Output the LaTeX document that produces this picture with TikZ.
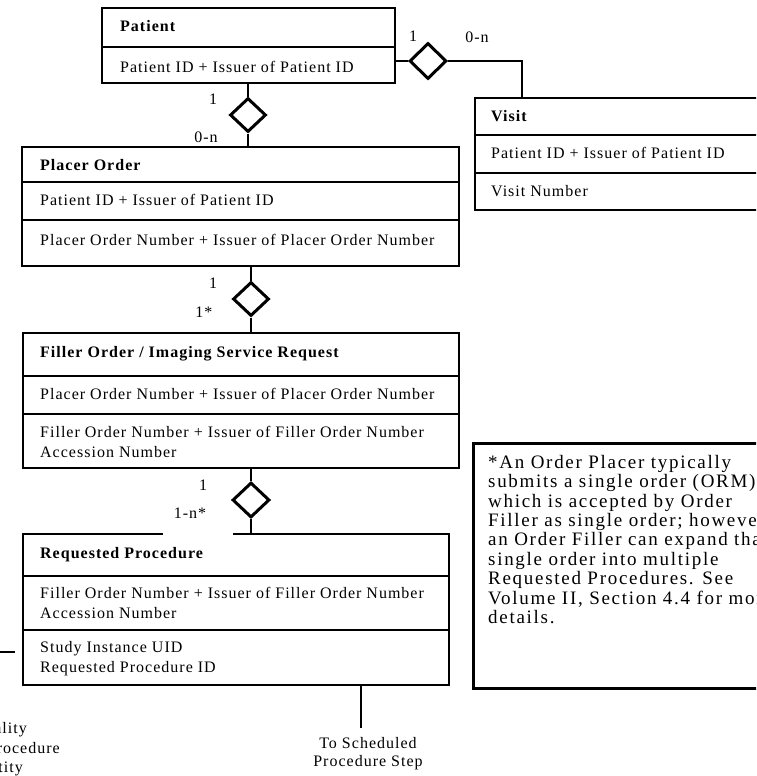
\documentclass[tikz,border=0pt]{standalone}
\usepackage{fontspec}
\setmainfont{Liberation Serif}
\newfontfamily\bxf[LetterSpace=6.3]{Liberation Serif}
\newfontfamily\ntf[LetterSpace=9]{Liberation Serif}
\usetikzlibrary{shapes.geometric}
\tikzset{
  box/.style={draw, line width=2pt, inner sep=0pt, anchor=north west},
  div/.style={line width=2pt},
  conn/.style={line width=2.5pt},
  rel/.style={draw, diamond, line width=3pt, inner sep=0pt, minimum width=36pt, minimum height=34pt, fill=white},
  txt/.style={font=\bxf\fontsize{16}{18}\selectfont, anchor=base west, inner sep=0pt},
  ttl/.style={font=\bxf\bfseries\fontsize{16}{18}\selectfont, anchor=base west, inner sep=0pt},
  card/.style={font=\bxf\fontsize{16}{18}\selectfont, inner sep=0pt},
  note/.style={font=\ntf\fontsize{19}{19.4}\selectfont, anchor=north west, inner sep=0pt, align=left}
}
\begin{document}
\begin{tikzpicture}[x=1pt,y=-1pt]
\useasboundingbox (0,0) rectangle (756,776);
\clip (0,0) rectangle (756,776);
\fill[white] (0,0) rectangle (756,776);

% Patient
\node[box, minimum width=293pt, minimum height=75pt] (patient) at (101,7) {};
\draw[div] (101,47) -- (394,47);
\node[ttl] (patientT) at (120,32) {Patient};
\node[txt] (patientA) at (120,72) {Patient ID + Issuer of Patient ID};

% Placer Order
\node[box, minimum width=437pt, minimum height=119pt] (placer) at (21,146) {};
\draw[div] (21,182) -- (458,182);
\draw[div] (21,220) -- (458,220);
\node[ttl] (placerT) at (40,170) {Placer Order};
\node[txt] (placerA) at (40,205) {Patient ID + Issuer of Patient ID};
\node[txt] (placerB) at (40,245) {Placer Order Number + Issuer of Placer Order Number};

% Visit
\node[box, minimum width=306pt, minimum height=112pt] (visit) at (474,97) {};
\draw[div] (474,135) -- (780,135);
\draw[div] (474,173) -- (780,173);
\node[ttl] (visitT) at (491,121) {Visit};
\node[txt] (visitA) at (491,158) {Patient ID + Issuer of Patient ID};
\node[txt] (visitB) at (491,196) {Visit Number};

% Filler Order
\node[box, minimum width=436pt, minimum height=135pt] (filler) at (22,332) {};
\draw[div] (22,376) -- (458,376);
\draw[div] (22,414) -- (458,414);
\node[ttl] (fillerT) at (40,357) {Filler Order / Imaging Service Request};
\node[txt] (fillerA) at (40,399) {Placer Order Number + Issuer of Placer Order Number};
\node[txt] (fillerB) at (40,437) {Filler Order Number + Issuer of Filler Order Number};
\node[txt] (fillerC) at (40,457) {Accession Number};

% Requested Procedure
\node[box, minimum width=426pt, minimum height=151pt] (req) at (22,533) {};
\fill[white] (163,530) rectangle (233,536);
\draw[div] (22,576) -- (448,576);
\draw[div] (22,630) -- (448,630);
\node[ttl] (reqT) at (40,558) {Requested Procedure};
\node[txt] (reqA) at (40,598) {Filler Order Number + Issuer of Filler Order Number};
\node[txt] (reqB) at (40,618) {Accession Number};
\node[txt] (reqC) at (40,652) {Study Instance UID};
\node[txt] (reqD) at (40,672) {Requested Procedure ID};

% Note
\node[box, line width=2.5pt, minimum width=318pt, minimum height=245pt] (notebox) at (472,442) {};
\node[note] (notetext) at (488,455) {*An Order Placer typically\\
submits a single order (ORM),\\
which is accepted by Order\\
Filler as single order; however,\\
an Order Filler can expand that\\
single order into multiple\\
Requested Procedures. See\\
Volume II, Section 4.4 for more\\
details.};

% relationships
\node[rel] (d1) at (248,115) {};
\node[rel, minimum width=37pt, minimum height=36pt] (d2) at (428,61) {};
\node[rel] (d3) at (251,299) {};
\node[rel, minimum width=37pt, minimum height=35pt] (d4) at (251,500) {};

\draw[conn] (patient.south -| d1) -- (d1.north);
\draw[conn] (d1.south) -- (d1.south |- placer.north);
\draw[conn] (patient.east |- d2) -- (d2.west);
\draw[conn] (d2.east) -| ([xshift=48pt]visit.north west);
\draw[conn] (placer.south -| d3) -- (d3.north);
\draw[conn] (d3.south) -- (d3.south |- filler.north);
\draw[conn] (filler.south -| d4) -- (d4.north);
\draw[conn] (d4.south) -- (d4.south |- req.north);

% cardinalities
\node[card] (c1) at (213,99) {1};
\node[card] (c2) at (206,137) {0-n};
\node[card] (c3) at (413,36) {1};
\node[card] (c4) at (477,37) {0-n};
\node[card] (c5) at (213,283) {1};
\node[card] (c6) at (204,312) {1*};
\node[card] (c7) at (203,485) {1};
\node[card] (c8) at (190,513) {1-n*};

% outgoing links
\coordinate (mppsEnd) at (-5,652);
\coordinate (mppsStart) at (15,652);
\draw[conn] (mppsStart) -- (mppsEnd);
\coordinate (spsEnd) at (361,728);
\draw[conn] (req.south -| spsEnd) -- (spsEnd);
\node[card, align=center, anchor=north] (sps) at (368,737) {To Scheduled\\Procedure Step};
\node[txt, anchor=base east] (m1) at (27,733) {Modality};
\node[txt, anchor=base east] (m2) at (60,753) {Procedure};
\node[txt, anchor=base east] (m3) at (23,772) {Entity};
\end{tikzpicture}
\end{document}
